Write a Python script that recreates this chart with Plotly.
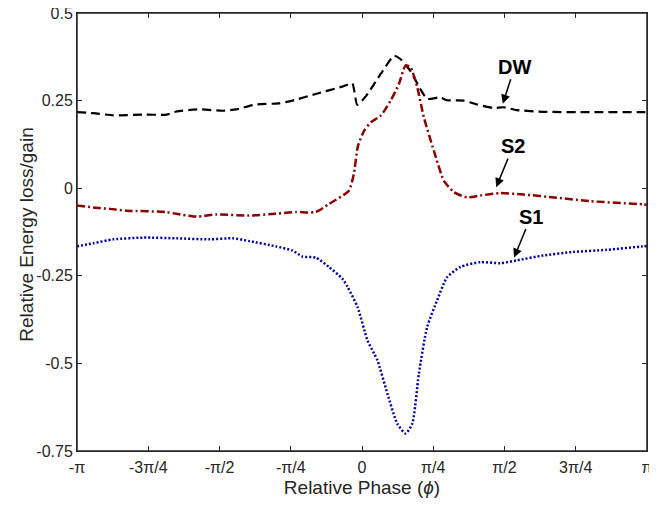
import numpy as np
import plotly.graph_objects as go

PI = np.pi

# DW (black dashed)
dw_x = [-PI, -2.959, -2.740, -2.411, -2.155, -2.046, -1.793, -1.533, -1.388, -1.168,
        -0.916, -0.766, -0.510, -0.217, -0.107, -0.053, 0.050, 0.206, 0.353, 0.426,
        0.535, 0.645, 0.718, 0.860, 0.938, 1.121, 1.267, 1.450, 1.560, 1.706, 1.999,
        2.510, 3.095, PI]
dw_y = [0.217, 0.214, 0.208, 0.210, 0.210, 0.219, 0.225, 0.221, 0.225, 0.239,
        0.242, 0.250, 0.269, 0.290, 0.299, 0.238, 0.265, 0.326, 0.378, 0.368,
        0.334, 0.282, 0.255, 0.259, 0.251, 0.250, 0.239, 0.229, 0.231, 0.223, 0.218,
        0.217, 0.217, 0.217]

# S2 (dark red dash-dot)
s2_x = [-PI, -2.923, -2.781, -2.595, -2.155, -2.046, -1.826, -1.607, -1.245, -0.949,
        -0.729, -0.510, -0.364, -0.145, -0.090, -0.045, 0.024, 0.097, 0.206, 0.316,
        0.408, 0.480, 0.535, 0.609, 0.682, 0.792, 0.902, 1.011, 1.157, 1.303, 1.522,
        1.779, 2.144, 2.510, 3.095, PI]
s2_y = [-0.049, -0.056, -0.059, -0.064, -0.068, -0.073, -0.081, -0.075, -0.078, -0.073,
        -0.068, -0.068, -0.045, -0.007, 0.041, 0.120, 0.164, 0.188, 0.207, 0.250,
        0.298, 0.350, 0.345, 0.288, 0.202, 0.107, 0.022, -0.011, -0.026, -0.021, -0.014,
        -0.018, -0.027, -0.037, -0.046, -0.048]

# S1 (blue dotted)
s1_x = [-PI, -2.959, -2.740, -2.411, -2.046, -1.680, -1.424, -1.242, -0.949, -0.766,
        -0.656, -0.510, -0.364, -0.217, -0.159, -0.049, 0.060, 0.134, 0.170, 0.280,
        0.389, 0.480, 0.554, 0.627, 0.718, 0.828, 0.938, 1.084, 1.303, 1.522, 1.706,
        1.999, 2.328, 2.693, 3.095, PI]
s1_y = [-0.166, -0.157, -0.146, -0.141, -0.143, -0.146, -0.143, -0.151, -0.166, -0.178,
        -0.195, -0.198, -0.225, -0.258, -0.282, -0.339, -0.434, -0.472, -0.491, -0.586,
        -0.672, -0.700, -0.672, -0.529, -0.396, -0.320, -0.254, -0.225, -0.211, -0.214, -0.206,
        -0.192, -0.182, -0.176, -0.166, -0.165]

x_tickvals = [-PI, -3 * PI / 4, -PI / 2, -PI / 4, 0, PI / 4, PI / 2, 3 * PI / 4, PI]
x_ticktext = ["-π", "-3π/4", "-π/2", "-π/4", "0", "π/4", "π/2", "3π/4", "π"]
y_tickvals = [0.5, 0.25, 0, -0.25, -0.5, -0.75]
y_ticktext = ["0.5", "0.25", "0", "-0.25", "-0.5", "-0.75"]

labels = ["DW", "S2", "S1"]
label_heads = [(1.552, 0.241), (1.479, 0.003), (1.676, -0.198)]
label_offsets = [(12, -37), (17, -41), (17, -41)]

FONT = "Liberation Sans, Arial, Helvetica"
GRAY = "#262626"

fig = go.Figure()
fig.add_trace(go.Scatter(x=dw_x, y=dw_y, mode="lines", name="DW",
                         line=dict(color="black", width=2.2, dash="9px,5px", shape="spline", smoothing=0.5)))
fig.add_trace(go.Scatter(x=s2_x, y=s2_y, mode="lines", name="S2",
                         line=dict(color="rgb(140,0,0)", width=2.5, dash="8px,3px,2px,3px", shape="spline", smoothing=0.6)))
fig.add_trace(go.Scatter(x=s1_x, y=s1_y, mode="lines", name="S1",
                         line=dict(color="rgb(0,0,160)", width=2.5, dash="2px,2px", shape="spline", smoothing=0.6)))

for lab, (hx, hy), (ox, oy) in zip(labels, label_heads, label_offsets):
    fig.add_annotation(x=hx, y=hy, xref="x", yref="y", text="<b>" + lab + "</b>",
                       showarrow=True, ax=ox, ay=oy, arrowhead=2, arrowsize=1.2,
                       arrowwidth=1.5, arrowcolor="black",
                       font=dict(family=FONT, size=20, color="black"))

# y-axis title as a rotated annotation (placed close to tick labels, as in reference)
fig.add_annotation(x=-0.0876, y=0.494, xref="paper", yref="paper", text="Relative Energy loss/gain",
                   textangle=-90, showarrow=False, xanchor="center", yanchor="middle",
                   font=dict(family=FONT, size=19, color=GRAY))

# axes box (top/right edges)
fig.add_shape(type="rect", xref="paper", yref="paper", x0=0, x1=1, y0=0, y1=1,
              line=dict(color=GRAY, width=1.5), fillcolor="rgba(0,0,0,0)", layer="above")

axis_common = dict(showgrid=False, zeroline=False, showline=True, linecolor=GRAY,
                   linewidth=1, mirror="ticks", ticks="inside", ticklen=5,
                   tickcolor=GRAY, automargin=False, ticklabeloverflow="allow",
                   tickfont=dict(family=FONT, size=16, color=GRAY))

fig.update_layout(
    xaxis=dict(range=[-PI, PI], tickvals=x_tickvals, ticktext=x_ticktext,
               ticklabelstandoff=2,
               title=dict(text="Relative Phase (<i>ϕ</i>)", standoff=5,
                          font=dict(family=FONT, size=19, color=GRAY)),
               **axis_common),
    yaxis=dict(range=[-0.75, 0.5], tickvals=y_tickvals, ticktext=y_ticktext,
               ticklabelstandoff=0, **axis_common),
    width=641, height=490, margin=dict(l=69, r=2, t=5, b=47),
    plot_bgcolor="white", paper_bgcolor="white", showlegend=False)

fig.write_html("out.html")
